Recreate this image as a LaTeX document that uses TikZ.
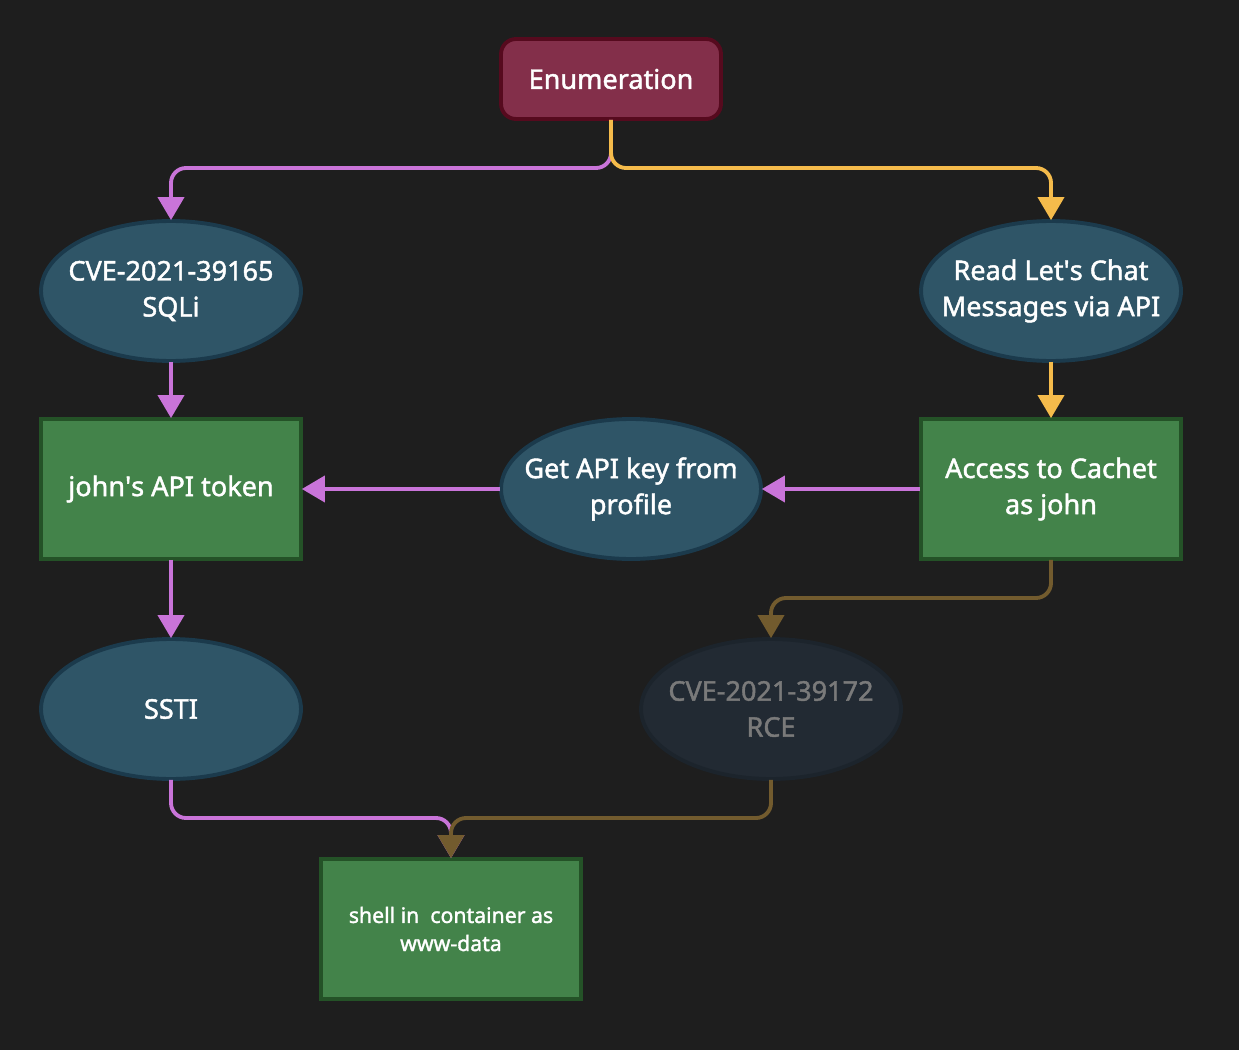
\documentclass[tikz,border=0pt]{standalone}
\usepackage{fontspec}
\setmainfont{Noto Sans}[UprightFeatures={FakeBold=1.6}]
\usetikzlibrary{arrows.meta,shapes.geometric}
\definecolor{bgcol}{HTML}{1E1E1E}
\definecolor{enumfill}{HTML}{832F4A}
\definecolor{enumline}{HTML}{560A1E}
\definecolor{vulnfill}{HTML}{2F5567}
\definecolor{vulnline}{HTML}{1B3A4C}
\definecolor{goodfill}{HTML}{43834A}
\definecolor{goodline}{HTML}{245227}
\definecolor{deadfill}{HTML}{222A33}
\definecolor{deadline}{HTML}{1C242C}
\definecolor{deadtext}{HTML}{7A7A7A}
\definecolor{purp}{HTML}{C974D9}
\definecolor{yell}{HTML}{F5BB4B}
\definecolor{brwn}{HTML}{725B2E}
% keep the ellipse from growing round its text
\newcommand\nowide[1]{\makebox[0pt]{#1}}
\tikzset{
  base/.style={line width=2.2pt, align=center, text=white,
    font=\fontsize{15.4}{20.5}\selectfont, inner sep=0pt, outer sep=0.5pt},
  enumbox/.style={base, rectangle, rounded corners=0.3cm, fill=enumfill,
    draw=enumline, minimum width=4.4cm, minimum height=1.6cm},
  vulnell/.style={base, ellipse, fill=vulnfill, draw=vulnline,
    minimum width=5.2cm, minimum height=2.8cm},
  deadell/.style={vulnell, fill=deadfill, draw=deadline, text=deadtext},
  goodbox/.style={base, rectangle, fill=goodfill, draw=goodline,
    minimum width=5.2cm, minimum height=2.8cm},
  link/.style={line width=2.2pt, rounded corners=0.3cm,
    -{Triangle[width=0.52cm,length=0.46cm]}},
}
\begin{document}
\begin{tikzpicture}[x=0.02cm,y=-0.02cm]
  \fill[bgcol] (0,0) rectangle (1239,1050);
  \useasboundingbox (0,0) rectangle (1239,1050);

  \node[enumbox] (enum) at (611,79) {Enumeration};
  \node[vulnell] (sqli) at (171,291) {\nowide{CVE-2021-39165}\\\nowide{SQLi}};
  \node[vulnell] (chat) at (1051,291)
    {\nowide{Read Let\textquotesingle s Chat}\\\nowide{Messages via API}};
  \node[goodbox] (token) at (171,489) {john\textquotesingle s API token};
  \node[vulnell] (apikey) at (631,489) {\nowide{Get API key from}\\\nowide{profile}};
  \node[goodbox] (cachet) at (1051,489) {Access to Cachet\\as john};
  \node[vulnell] (ssti) at (171,709) {SSTI};
  \node[deadell] (rce) at (771,709) {\nowide{CVE-2021-39172}\\\nowide{RCE}};
  \node[goodbox, font=\fontsize{12.1}{16}\selectfont] (shell) at (451,929)
    {shell in~ container as\\www-data};

  \draw[link, purp] (enum.south) -- (enum.south |- 0,168) -| (sqli.north);
  \draw[link, yell] (enum.south) -- (enum.south |- 0,168) -| (chat.north);
  \draw[link, purp] (sqli) -- (token);
  \draw[link, yell] (chat) -- (cachet);
  \draw[link, purp] (cachet) -- (apikey);
  \draw[link, purp] (apikey) -- (token);
  \draw[link, purp] (token) -- (ssti);
  \draw[link, brwn] (cachet.south) -- (cachet.south |- 0,598) -| (rce.north);
  \draw[link, purp] (ssti.south) -- (ssti.south |- 0,818) -| (shell.north);
  \draw[link, brwn] (rce.south) -- (rce.south |- 0,818) -| (shell.north);
\end{tikzpicture}
\end{document}
